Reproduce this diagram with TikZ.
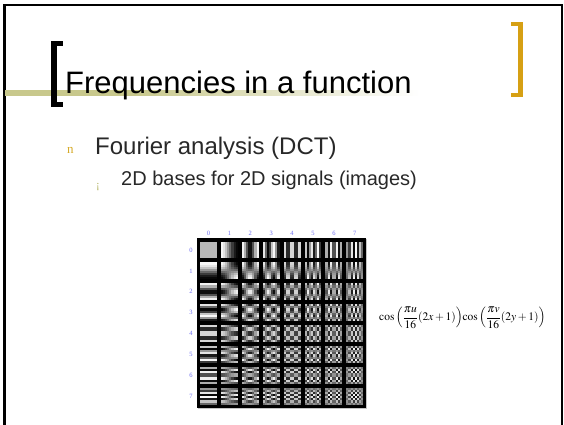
\documentclass[tikz,border=0pt]{standalone}
\usepackage{mathptmx}
\usepackage[no-math]{fontspec}
\setmainfont{Liberation Sans}
\newfontfamily\serifm{Liberation Serif}
\definecolor{olivebar}{RGB}{200,200,140}
\definecolor{goldbr}{RGB}{214,160,20}
\definecolor{bulletn}{RGB}{214,170,40}
\definecolor{bulleti}{RGB}{180,180,100}
\definecolor{txt}{RGB}{40,40,40}
\definecolor{lbl}{RGB}{110,110,240}
\tikzset{
  txtnode/.style={anchor=base west, inner sep=0pt},
  lblnode/.style={inner sep=0pt, text=lbl, font=\serifm\fontsize{6.5}{7}\selectfont}
}
\begin{document}
\begin{tikzpicture}[x=1pt,y=-1pt]
\useasboundingbox (0,0) rectangle (564,424);
\fill[white] (0,0) rectangle (564,424);
% frame
\draw[line width=2.5pt] (4.5,440) -- (4.5,5) -- (562.2,5) -- (562.2,440);
% title bar
\fill[olivebar] (5,90) rectangle (133,96);
\shade[left color=olivebar, right color=white] (133,90) rectangle (420,95);
% black bracket
\fill[black] (51,41) rectangle (57,107);
\fill[black] (51,41) rectangle (63,46);
\fill[black] (51,102) rectangle (63,107);
% gold bracket
\fill[goldbr] (518,22) rectangle (523,97);
\fill[goldbr] (511,22) rectangle (523,26);
\fill[goldbr] (511,93) rectangle (523,97);
% title
\node[txtnode, font=\fontsize{31}{36}\selectfont] (title) at (65,93) {Frequencies in a function};
% bullets
\node[txtnode, text=bulletn, font=\serifm\fontsize{13}{14}\selectfont] (b1) at (67,153) {n};
\node[txtnode, text=txt, font=\fontsize{24}{28}\selectfont] (t1) at (95,154) {Fourier analysis (DCT)};
\node[txtnode, text=bulleti, font=\serifm\fontsize{11}{12}\selectfont] (b2) at (96,188) {¡};
\node[txtnode, text=txt, font=\fontsize{20}{24}\selectfont] (t2) at (121,185) {2D bases for 2D signals (images)};
% DCT grid
\fill[black] (197,238) rectangle (366,408);
\draw[gray!45, line width=1pt] (366.5,239) -- (366.5,408.5) -- (198,408.5);
\foreach \u in {0,...,7}{
  \foreach \v in {0,...,7}{
    \foreach \i in {0,...,7}{
      \foreach \j in {0,...,7}{
        \pgfmathsetmacro\pc{50-48*cos(11.25*\u*(2*\i+1))*cos(11.25*\v*(2*\j+1))}
        \fill[black!\pc] ({200+\u*20.9+\i*2.1125},{241.5+\v*20.9+\j*2.1125}) rectangle +(2.2,2.2);
      }
    }
  }
}
\fill[black!28] (200,241.5) rectangle +(16.9,16.9);
\foreach \k in {0,...,7}{
  \node[lblnode] (c\k) at ({208.5+\k*20.9},233) {\k};
  \node[lblnode] (r\k) at (191,{250+\k*20.9}) {\k};
}
% formula
\node[anchor=west, inner sep=0pt, font=\fontsize{11.5}{14}\selectfont] (f) at (379,318)
  {$\displaystyle\cos\left(\frac{\pi u}{16}(2x+1)\right)\!\cos\left(\frac{\pi v}{16}(2y+1)\right)$};
\end{tikzpicture}
\end{document}
